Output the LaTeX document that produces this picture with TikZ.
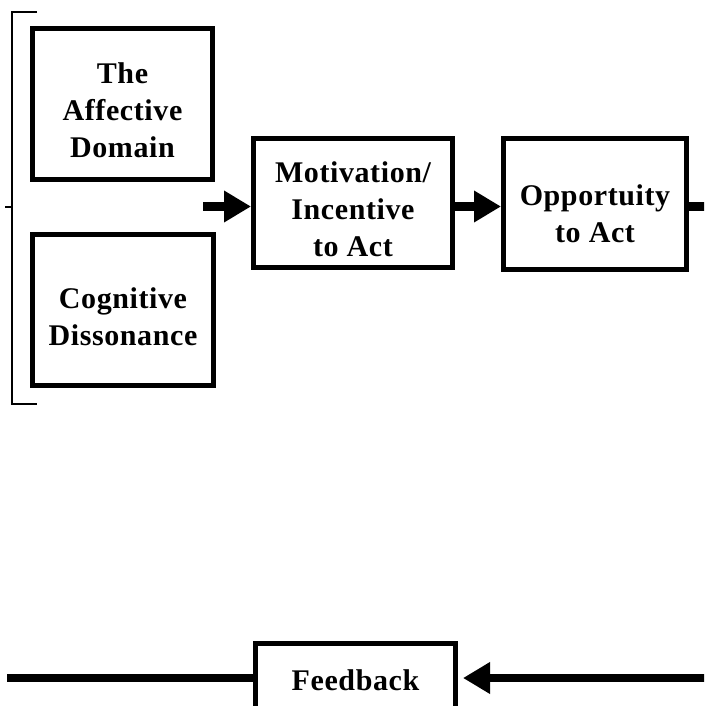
\documentclass[tikz,border=0pt]{standalone}
\usepackage{fontspec}
\setmainfont{Liberation Serif}[LetterSpace=2]
\usetikzlibrary{arrows.meta}
% invisible strut that pushes a box's text block down a little
\newcommand\lowerby[1]{\rule{0pt}{#1}}
\begin{document}
\begin{tikzpicture}[x=1pt,y=-1pt,
  block/.style={draw=black,line width=5pt,fill=white,align=center,
    font=\fontsize{30}{37}\selectfont\bfseries,inner sep=0pt},
  flow/.style={line width=8.5pt,-{Triangle[length=27pt,width=30pt]}},
  plain/.style={line width=8.5pt},
  bracket/.style={line width=2.5pt}]
  \useasboundingbox (0,0) rectangle (704,706);
  \clip (0,0) rectangle (704,706);

  % the two source factors
  \node[block,minimum width=180pt,minimum height=151pt] (aff) at (122.5,104) {\lowerby{34pt}The\\Affective\\Domain};
  \node[block,minimum width=181pt,minimum height=151pt] (cog) at (123,310) {\lowerby{34pt}Cognitive\\Dissonance};

  % main chain
  \node[block,minimum width=199pt,minimum height=129pt] (mot) at (353,203) {\lowerby{34pt}Motivation/\\Incentive\\to Act};
  \node[block,minimum width=183pt,minimum height=131pt] (opp) at (595,204) {\lowerby{40pt}Opportuity\\to Act};

  % feedback box at the bottom
  \node[block,minimum width=200pt,minimum height=74pt] (fb) at (355.5,680) {Feedback};

  % bracket grouping the two factors
  \coordinate (btop) at (37,12);
  \coordinate (bbot) at (37,404);
  \coordinate (bmid) at (12,207);
  \draw[bracket] (btop) -- (12,12) -- (12,404) -- (bbot);
  \coordinate (lstub) at (5,207);
  \draw[bracket] (bmid) -- (lstub);

  % arrows along the chain
  \coordinate (j) at (203,206.5);
  \draw[flow] (j) -- (j -| mot.west);
  \draw[flow] (j -| mot.east) -- (j -| opp.west);
  \coordinate (rout) at (706,206.5);
  \draw[plain] (j -| opp.east) -- (rout);

  % feedback return line
  \coordinate (rin) at (706,678);
  \coordinate (lout) at (7,678);
  \coordinate[xshift=5pt] (fbtip) at (rin -| fb.east);
  \draw[flow] (rin) -- (fbtip);
  \draw[plain] (lout -| fb.west) -- (lout);
\end{tikzpicture}
\end{document}
